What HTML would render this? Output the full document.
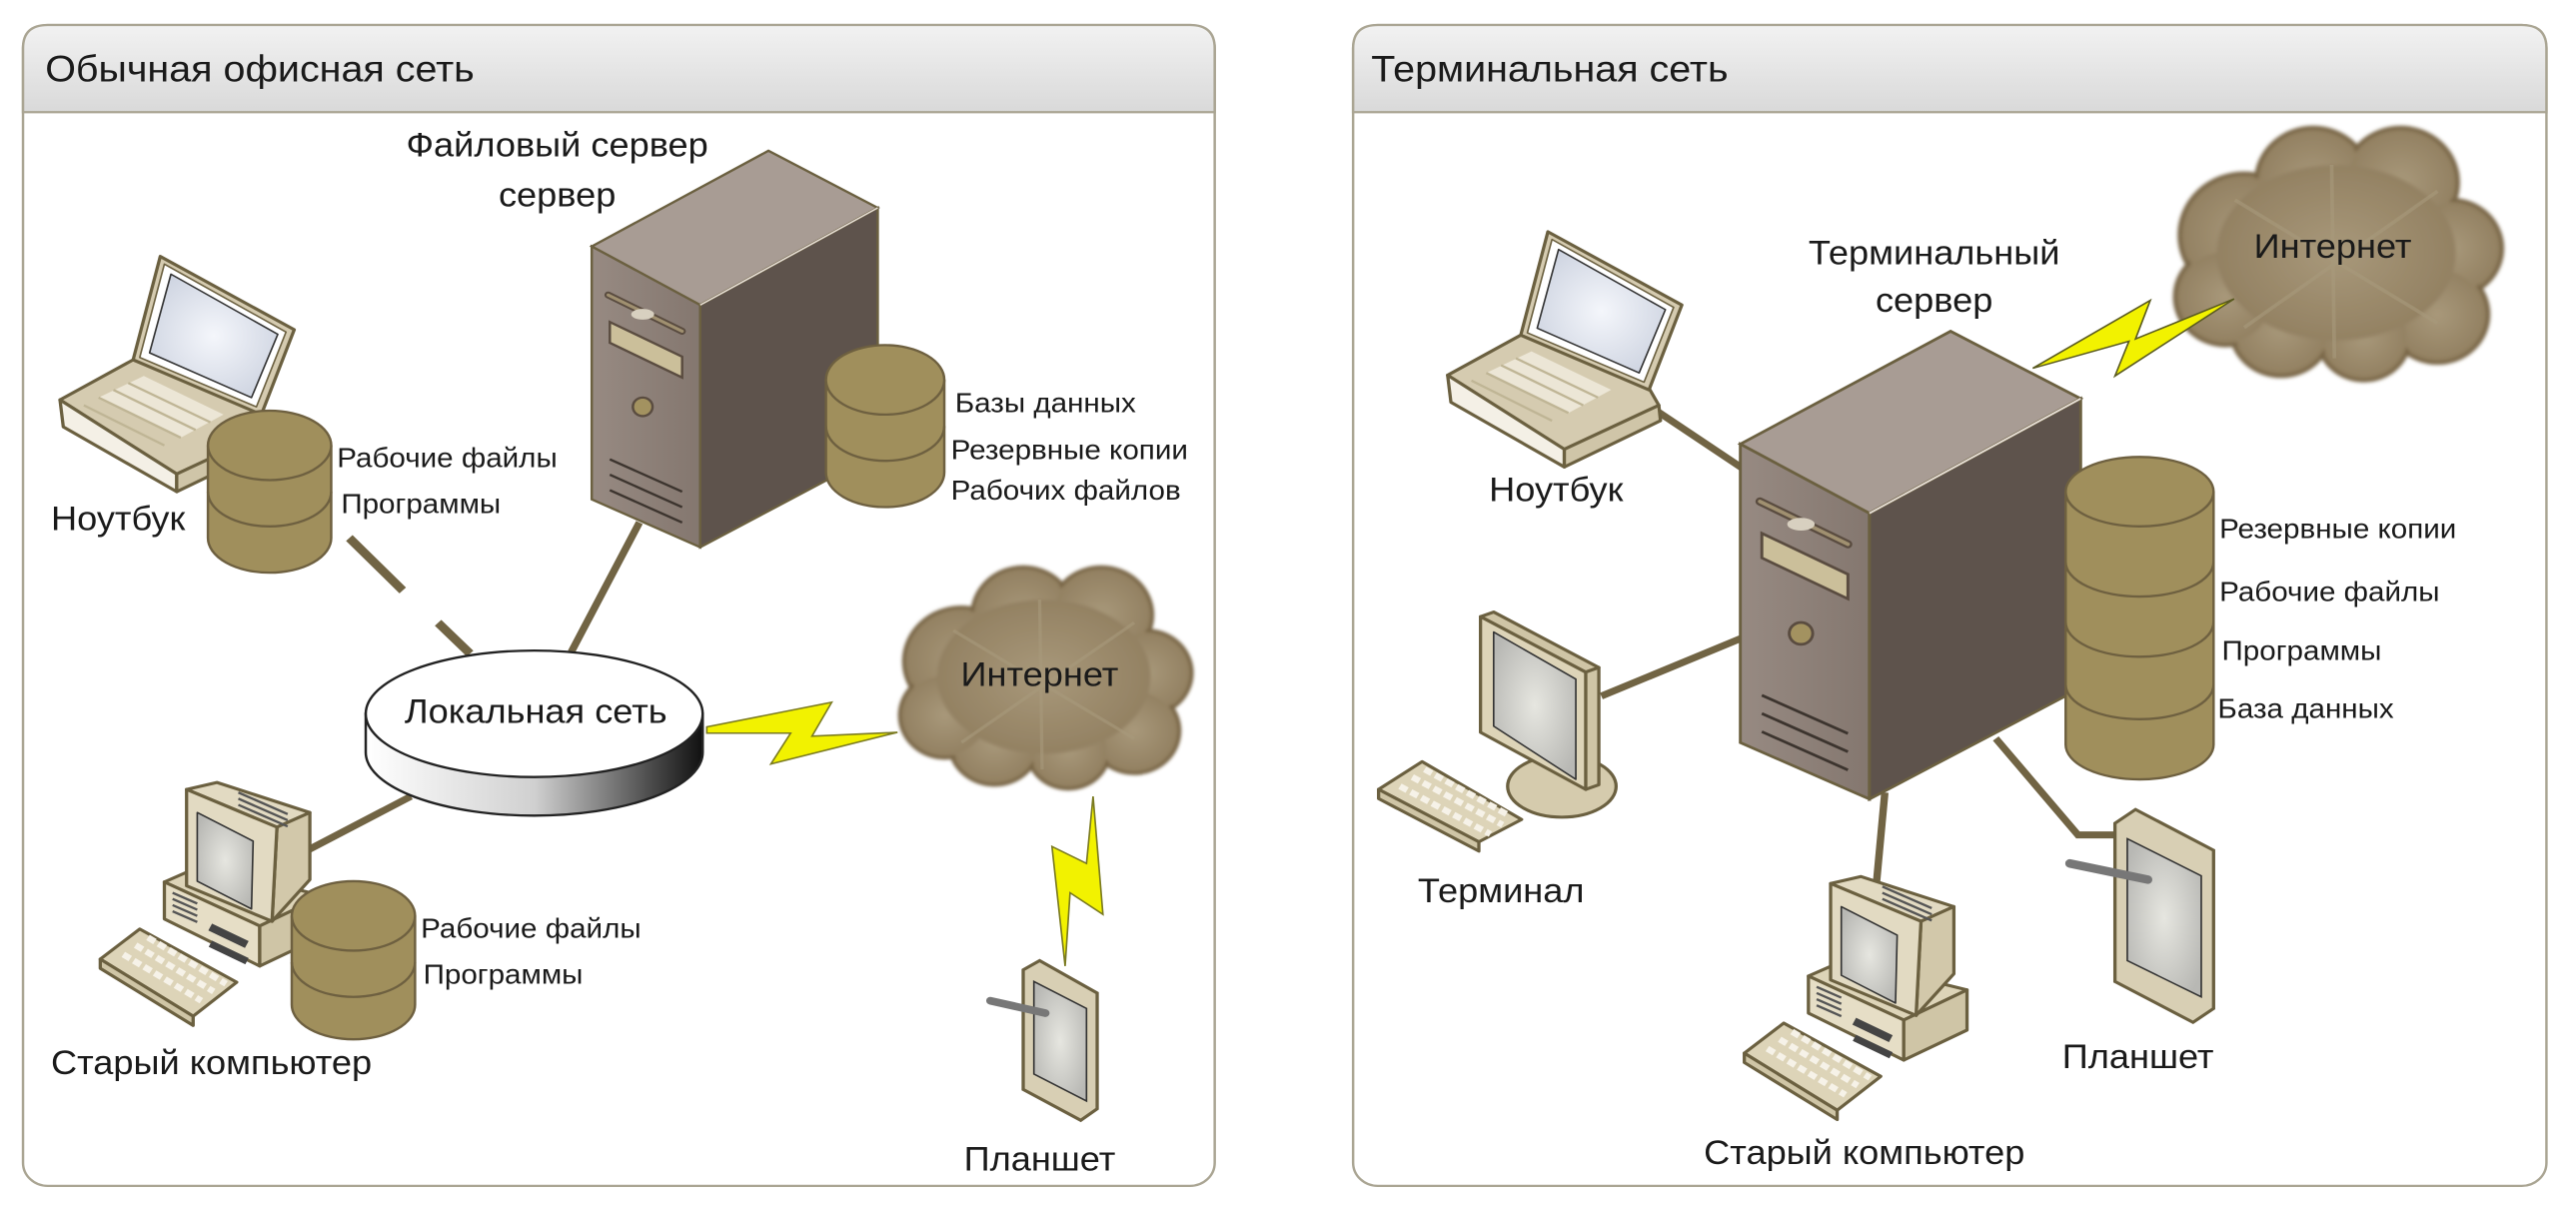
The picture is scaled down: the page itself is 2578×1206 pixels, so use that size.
<!DOCTYPE html>
<html><head><meta charset="utf-8"><style>
html,body{margin:0;padding:0;background:#fff}
svg{display:block}
text{font-family:"Liberation Sans","DejaVu Sans",sans-serif;fill:#1a1a1a}
</style></head><body>
<svg width="2578" height="1206" viewBox="0 0 2578 1206" xmlns="http://www.w3.org/2000/svg">
<defs>
<linearGradient id="hdr" x1="0" y1="0" x2="0" y2="1"><stop offset="0" stop-color="#f2f2f2"/><stop offset="1" stop-color="#d9d9d9"/></linearGradient>
<linearGradient id="front" x1="0" y1="0" x2="1" y2="0"><stop offset="0" stop-color="#978a82"/><stop offset="1" stop-color="#84776f"/></linearGradient>
<linearGradient id="disk" x1="0" y1="0" x2="1" y2="0"><stop offset="0" stop-color="#ffffff"/><stop offset="0.5" stop-color="#d0d0d0"/><stop offset="1" stop-color="#111"/></linearGradient>
<radialGradient id="scr" cx="0.5" cy="0.5" r="0.6"><stop offset="0" stop-color="#f4f6fb"/><stop offset="1" stop-color="#cdd3e0"/></radialGradient>
<radialGradient id="scr2" cx="0.5" cy="0.5" r="0.6"><stop offset="0" stop-color="#e6e6e0"/><stop offset="1" stop-color="#b8b8b4"/></radialGradient>
<radialGradient id="cl" cx="0.5" cy="0.5" r="0.55"><stop offset="0" stop-color="#a8987a"/><stop offset="1" stop-color="#917f60"/></radialGradient>
<filter id="soft" x="-10%" y="-10%" width="120%" height="120%"><feGaussianBlur stdDeviation="2"/></filter>

<g id="server">
 <polygon points="720,322 935,198 1068,272 852,398" fill="#a89c94" stroke="#6b6040" stroke-width="3"/>
 <polygon points="720,322 852,398 852,712 720,650" fill="url(#front)" stroke="#6b6040" stroke-width="3"/>
 <polygon points="852,398 1068,272 1068,590 852,712" fill="#5e534c" stroke="#6b6040" stroke-width="3"/>
 <line x1="852" y1="398" x2="1068" y2="272" stroke="#e8e0d8" stroke-width="2"/>
 <path d="M740,385 L830,432" stroke="#5a4c40" stroke-width="9" stroke-linecap="round"/>
 <path d="M740,385 L830,432" stroke="#a09070" stroke-width="4" stroke-linecap="round"/>
 <ellipse cx="782" cy="410" rx="14" ry="7" fill="#d8d0c0"/>
 <polygon points="742,420 830,465 830,492 742,447" fill="#cbbf9a" stroke="#5a4c40" stroke-width="3"/>
 <circle cx="782" cy="530" r="12" fill="#a39260" stroke="#5a4c40" stroke-width="3"/>
 <path d="M742,598 L830,640 M742,618 L830,660 M742,638 L830,680" stroke="#3c342e" stroke-width="3"/>
</g>

<g id="laptop" stroke="#6b6040" stroke-width="4" stroke-linejoin="round">
 <polygon points="73,521 162,469 316,534 330,560 215,617" fill="#d5cbb0"/>
 <polygon points="73,521 215,617 215,640 77,556" fill="#f4f0e6"/>
 <polygon points="215,617 330,560 332,580 215,640" fill="#cfc5a8"/>
 <polygon points="195,335 358,430 318,540 162,469" fill="#d5cbb0"/>
 <polygon points="200,345 348,433 312,530 170,466" fill="#fff" stroke-width="2"/>
 <polygon points="208,358 338,436 306,518 182,460" fill="url(#scr)" stroke="#333" stroke-width="2"/>
 <g fill="#ece6d6" stroke="none">
  <polygon points="120,518 175,490 272,540 220,570"/>
 </g>
 <path d="M120,518 L220,570 M138,508 L238,560 M156,499 L256,550 M102,528 L200,580" stroke="#bfb595" stroke-width="3"/>
</g>

<g id="desktop" stroke="#6b6040" stroke-width="4" stroke-linejoin="round">
 <polygon points="200,1146 245,1125 393,1164 316,1203" fill="#ddd4b8"/>
 <polygon points="200,1146 316,1203 316,1255 200,1194" fill="#e6dec6"/>
 <polygon points="316,1203 393,1164 393,1216 316,1255" fill="#cfc5a6"/>
 <path d="M210,1160 l30,14 M210,1168 l30,14 M210,1176 l30,14 M210,1184 l30,14" stroke="#555" stroke-width="3"/>
 <rect x="258" y="1200" width="50" height="10" fill="#444" stroke="none" transform="rotate(27 258 1200)"/>
 <rect x="258" y="1222" width="50" height="9" fill="#444" stroke="none" transform="rotate(27 258 1222)"/>
 <polygon points="227,1026 264,1017 377,1056 337,1075" fill="#e2dac2"/>
 <polygon points="337,1075 377,1056 377,1143 331,1197" fill="#d2c8aa"/>
 <polygon points="227,1026 337,1075 331,1197 227,1151" fill="#e2dac2"/>
 <polygon points="240,1056 308,1093 306,1181 240,1145" fill="url(#scr2)" stroke="#333" stroke-width="2"/>
 <path d="M290,1030 l60,28 M290,1038 l60,28 M290,1046 l60,28" stroke="#555" stroke-width="3"/>
 <polygon points="122,1246 170,1207 288,1276 235,1320" fill="#ddd4b8"/>
 <polygon points="122,1246 235,1320 235,1332 122,1258" fill="#cfc5a6"/>
 <path d="M150,1240 l95,60 M165,1228 l95,60 M180,1218 l95,60" stroke="#f6f2e8" stroke-width="8" stroke-dasharray="10 5"/>
</g>

<g id="cloud">
 <g fill="#8e7c5c" stroke="#7a6848" stroke-width="5" filter="url(#soft)">
  <circle cx="1170" cy="860" r="70"/><circle cx="1245" cy="800" r="62"/><circle cx="1340" cy="800" r="62"/>
  <circle cx="1395" cy="875" r="55"/><circle cx="1380" cy="950" r="55"/><circle cx="1300" cy="975" r="50"/>
  <circle cx="1210" cy="965" r="55"/><circle cx="1150" cy="930" r="55"/>
 </g>
 <g fill="url(#cl)" filter="url(#soft)">
  <circle cx="1170" cy="860" r="66"/><circle cx="1245" cy="800" r="58"/><circle cx="1340" cy="800" r="58"/>
  <circle cx="1395" cy="875" r="51"/><circle cx="1380" cy="950" r="51"/><circle cx="1300" cy="975" r="46"/>
  <circle cx="1210" cy="965" r="51"/><circle cx="1150" cy="930" r="51"/><ellipse cx="1270" cy="880" rx="130" ry="100"/>
 </g>
 <path d="M1265,780 L1268,1000 M1160,820 L1380,960 M1380,810 L1170,965" stroke="#a89a7c" stroke-width="4" opacity="0.6"/>
</g>
</defs>

<!-- LEFT PANEL -->
<g transform="translate(0,-2) scale(0.8225,0.772)">
 <rect x="28" y="35" width="1450" height="1505" rx="30" fill="#fff" stroke="#aaa593" stroke-width="3"/>
 <path d="M28,148 L28,65 Q28,35 58,35 L1448,35 Q1478,35 1478,65 L1478,148 Z" fill="url(#hdr)" stroke="#aaa593" stroke-width="3"/>
 <text x="55" y="108" font-size="48">Обычная офисная сеть</text>

 <line x1="425" y1="700" x2="490" y2="768" stroke="#716444" stroke-width="11"/>
 <line x1="533" y1="810" x2="572" y2="850" stroke="#716444" stroke-width="11"/>
 <line x1="778" y1="680" x2="695" y2="848" stroke="#716444" stroke-width="9"/>
 <line x1="365" y1="1110" x2="500" y2="1035" stroke="#716444" stroke-width="9"/>

 <text x="678" y="205" font-size="44" text-anchor="middle">Файловый сервер</text>
 <text x="678" y="270" font-size="44" text-anchor="middle">сервер</text>
 <use href="#server"/>
 <g fill="#a08f5c" stroke="#6e6040" stroke-width="3">
  <path d="M1005,495 L1005,615 A72,45 0 0 0 1149,615 L1149,495"/>
  <ellipse cx="1077" cy="495" rx="72" ry="45"/>
  <path d="M1005,555 A72,45 0 0 0 1149,555" fill="none"/>
 </g>
 <text x="1162" y="537" font-size="36">Базы данных</text>
 <text x="1157" y="598" font-size="36">Резервные копии</text>
 <text x="1157" y="650" font-size="36">Рабочих файлов</text>

 <use href="#laptop"/>
 <g fill="#a08f5c" stroke="#6e6040" stroke-width="3">
  <path d="M253,580 L253,700 A75,45 0 0 0 403,700 L403,580"/>
  <ellipse cx="328" cy="580" rx="75" ry="45"/>
  <path d="M253,640 A75,45 0 0 0 403,640" fill="none"/>
 </g>
 <text x="410" y="608" font-size="36">Рабочие файлы</text>
 <text x="415" y="668" font-size="36">Программы</text>
 <text x="62" y="690" font-size="44">Ноутбук</text>

 <path d="M445,928 L445,978 A205,82 0 0 0 855,978 L855,928 Z" fill="url(#disk)" stroke="#222" stroke-width="3"/>
 <ellipse cx="650" cy="928" rx="205" ry="82" fill="#fff" stroke="#222" stroke-width="3"/>
 <text x="652" y="940" font-size="44" text-anchor="middle">Локальная сеть</text>

 <polygon points="860,945 1012,913 988,957 1092,952 938,993 962,953 860,953" fill="#f2f200" stroke="#7a7a20" stroke-width="2"/>

 <use href="#cloud"/>
 <text x="1265" y="892" font-size="44" text-anchor="middle">Интернет</text>

 <polygon points="1330,1035 1342,1188 1302,1160 1296,1255 1280,1100 1322,1122" fill="#f2f200" stroke="#7a7a20" stroke-width="2"/>

 <g stroke="#6b6040" stroke-width="4">
  <polygon points="1245,1260 1265,1248 1335,1290 1335,1440 1315,1455 1245,1415" fill="#d8cfb4"/>
  <polygon points="1258,1275 1322,1310 1322,1430 1258,1395" fill="url(#scr2)" stroke="#333" stroke-width="2"/>
  <line x1="1205" y1="1300" x2="1272" y2="1316" stroke="#777" stroke-width="10" stroke-linecap="round"/>
 </g>
 <text x="1265" y="1520" font-size="44" text-anchor="middle">Планшет</text>

 <use href="#desktop"/>
 <g fill="#a08f5c" stroke="#6e6040" stroke-width="3">
  <path d="M355,1190 L355,1305 A75,45 0 0 0 505,1305 L505,1190"/>
  <ellipse cx="430" cy="1190" rx="75" ry="45"/>
  <path d="M355,1250 A75,45 0 0 0 505,1250" fill="none"/>
 </g>
 <text x="512" y="1218" font-size="36">Рабочие файлы</text>
 <text x="515" y="1278" font-size="36">Программы</text>
 <text x="62" y="1395" font-size="44">Старый компьютер</text>
</g>

<!-- RIGHT PANEL -->
<g transform="translate(1290,-2) scale(0.8225,0.772)">
 <rect x="78" y="35" width="1452" height="1505" rx="30" fill="#fff" stroke="#aaa593" stroke-width="3"/>
 <path d="M78,148 L78,65 Q78,35 108,35 L1500,35 Q1530,35 1530,65 L1530,148 Z" fill="url(#hdr)" stroke="#aaa593" stroke-width="3"/>
 <text x="100" y="108" font-size="48">Терминальная сеть</text>

 <line x1="440" y1="530" x2="555" y2="612" stroke="#716444" stroke-width="9"/>
 <line x1="380" y1="905" x2="555" y2="828" stroke="#716444" stroke-width="9"/>
 <line x1="725" y1="1030" x2="715" y2="1145" stroke="#716444" stroke-width="9"/>
 <path d="M860,960 L960,1085 L1012,1085" fill="none" stroke="#716444" stroke-width="9"/>

 <g transform="translate(1272,328) scale(1.12,1.14) translate(-1268,-878)"><use href="#cloud"/></g>
 <text x="1270" y="337" font-size="44" text-anchor="middle">Интернет</text>
 <polygon points="905,480 1048,392 1030,442 1150,390 1005,490 1022,445" fill="#f2f200" stroke="#5a5a20" stroke-width="2"/>

 <text x="785" y="345" font-size="44" text-anchor="middle">Терминальный</text>
 <text x="785" y="407" font-size="44" text-anchor="middle">сервер</text>

 <g transform="translate(805,432) scale(1.19,1.18) translate(-935,-198)"><use href="#server"/></g>

 <g fill="#a08f5c" stroke="#6e6040" stroke-width="3">
  <path d="M945,640 L945,968 A90,45 0 0 0 1125,968 L1125,640"/>
  <ellipse cx="1035" cy="640" rx="90" ry="45"/>
  <path d="M945,731 A90,45 0 0 0 1125,731 M945,809 A90,45 0 0 0 1125,809 M945,890 A90,45 0 0 0 1125,890" fill="none"/>
 </g>
 <text x="1132" y="700" font-size="36">Резервные копии</text>
 <text x="1132" y="782" font-size="36">Рабочие файлы</text>
 <text x="1135" y="858" font-size="36">Программы</text>
 <text x="1130" y="933" font-size="36">База данных</text>

 <g transform="translate(120,-32)"><use href="#laptop"/></g>
 <text x="325" y="652" font-size="44" text-anchor="middle">Ноутбук</text>

 <g stroke="#6b6040" stroke-width="4" stroke-linejoin="round">
  <ellipse cx="332" cy="1022" rx="66" ry="40" fill="#d5cbad"/>
  <polygon points="233,802 249,796 377,868 361,874" fill="#cfc5a6"/>
  <polygon points="361,874 377,868 377,1020 361,1026" fill="#cfc5a6"/>
  <polygon points="233,802 361,874 361,1026 233,952" fill="#ddd4b8"/>
  <polygon points="249,822 349,883 349,1013 249,944" fill="url(#scr2)" stroke="#333" stroke-width="2"/>
  <polygon points="109,1026 162,990 283,1065 231,1094" fill="#ddd4b8"/>
  <polygon points="109,1026 231,1094 231,1106 109,1038" fill="#cfc5a6"/>
  <path d="M135,1022 l110,62 M150,1010 l110,62 M165,1000 l100,58" stroke="#f6f2e8" stroke-width="8" stroke-dasharray="10 5"/>
 </g>
 <text x="258" y="1172" font-size="44" text-anchor="middle">Терминал</text>

 <g transform="translate(432,122)"><use href="#desktop"/></g>
 <text x="700" y="1512" font-size="44" text-anchor="middle">Старый компьютер</text>

 <g stroke="#6b6040" stroke-width="4">
  <polygon points="1005,1070 1030,1052 1125,1105 1125,1310 1100,1328 1005,1275" fill="#d8cfb4"/>
  <polygon points="1020,1090 1110,1138 1110,1295 1020,1248" fill="url(#scr2)" stroke="#333" stroke-width="2"/>
  <line x1="950" y1="1122" x2="1045" y2="1143" stroke="#777" stroke-width="11" stroke-linecap="round"/>
 </g>
 <text x="1033" y="1387" font-size="44" text-anchor="middle">Планшет</text>
</g>
</svg>
</body></html>
